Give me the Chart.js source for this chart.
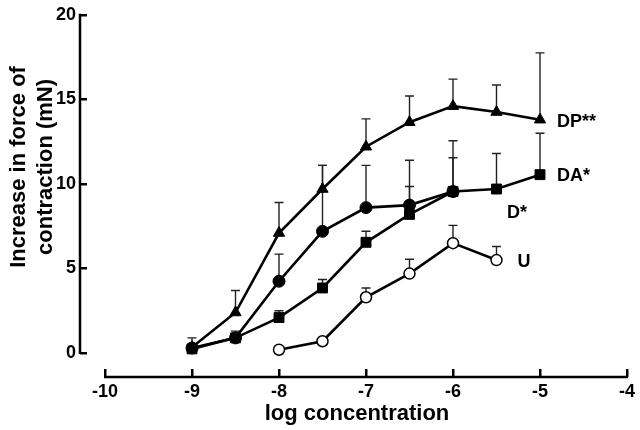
<!DOCTYPE html>
<html>
<head>
<meta charset="utf-8">
<script src="https://cdn.jsdelivr.net/npm/chart.js@4/dist/chart.umd.min.js"></script>
<style>
  body { margin: 0; background: #fff; }
  canvas { display: block; }
</style>
</head>
<body>
<canvas id="forceChart" width="640" height="430"></canvas>
<script>
// Data (log concentration vs increase in force, mN)
const concDP = [-9, -8.5, -8, -7.5, -7, -6.5, -6, -5.5, -5];
const meanDP = [0.35, 2.4, 7.1, 9.7, 12.2, 13.65, 14.6, 14.25, 13.8];
const semDP = [0.55, 1.3, 1.8, 1.4, 1.65, 1.55, 1.6, 1.6, 3.95];

const concDA = [-9, -8.5, -8, -7.5, -7, -6.5, -6, -5.5, -5];
const meanDA = [0.25, 0.9, 2.1, 3.85, 6.55, 8.2, 9.55, 9.7, 10.55];
const semDA = [0, 0.4, 0.4, 0.5, 0.65, 1.65, 2.0, 2.1, 2.45];

const concD = [-9, -8.5, -8, -7.5, -7, -6.5, -6];
const meanD = [0.3, 0.9, 4.25, 7.2, 8.6, 8.75, 9.55];
const semD = [0, 0, 1.6, 3.9, 2.5, 2.65, 3.0];

const concU = [-8, -7.5, -7, -6.5, -6, -5.5];
const meanU = [0.2, 0.7, 3.3, 4.7, 6.5, 5.5];
const semU = [0, 0, 0.55, 0.85, 1.05, 0.8];

const xTicks = [-10, -9, -8, -7, -6, -5, -4];
const yTicks = [0, 5, 10, 15, 20];
const yTitle = ['Increase in force of', 'contraction (mN)'];
const xTitle = 'log concentration';

const FONT = "'Liberation Sans', Arial, sans-serif";

function pts(xs, ys) {
    return xs.map((x, i) => ({ x: x, y: ys[i] }));
}

// upward error bars with caps
const errorBars = {
    id: 'errorBars',
    beforeDatasetsDraw(chart) {
        const ctx = chart.ctx;
        const xs = chart.scales.x, ys = chart.scales.y;
        ctx.save();
        ctx.strokeStyle = '#222';
        ctx.lineWidth = 1.4;
        chart.data.datasets.forEach(ds => {
            ds.data.forEach((p, i) => {
                const e = ds.sem[i];
                if (!e) return;
                const px = xs.getPixelForValue(p.x);
                const y0 = ys.getPixelForValue(p.y);
                const y1 = ys.getPixelForValue(p.y + e);
                ctx.beginPath();
                ctx.moveTo(px, y0);
                ctx.lineTo(px, y1);
                ctx.moveTo(px - 4.5, y1);
                ctx.lineTo(px + 4.5, y1);
                ctx.stroke();
            });
        });
        ctx.restore();
    }
};

// offset axis lines, y title and series tags
const decorations = {
    id: 'decorations',
    afterDraw(chart) {
        const ctx = chart.ctx;
        const xs = chart.scales.x, ys = chart.scales.y;
        const area = chart.chartArea;
        ctx.save();
        ctx.strokeStyle = '#000';
        ctx.lineWidth = 2.5;
        // y axis line
        const ax = area.left - 7;
        ctx.beginPath();
        ctx.moveTo(ax, ys.getPixelForValue(0) + 1);
        ctx.lineTo(ax, ys.getPixelForValue(20) - 1);
        ctx.stroke();
        // x axis line
        const ay = area.bottom + 8;
        ctx.beginPath();
        ctx.moveTo(xs.getPixelForValue(-10) - 1, ay);
        ctx.lineTo(xs.getPixelForValue(-4) + 1, ay);
        ctx.stroke();

        // y axis title
        ctx.fillStyle = '#000';
        ctx.font = 'bold 22px ' + FONT;
        ctx.textAlign = 'center';
        ctx.textBaseline = 'middle';
        const cy = (ys.getPixelForValue(0) + ys.getPixelForValue(20)) / 2 - 17;
        yTitle.forEach((line, i) => {
            ctx.save();
            ctx.translate(19 + i * 27, cy);
            ctx.rotate(-Math.PI / 2);
            ctx.fillText(line, 0, 0);
            ctx.restore();
        });

        // series tags next to the last point
        ctx.font = 'bold 18px ' + FONT;
        ctx.textAlign = 'left';
        chart.data.datasets.forEach(ds => {
            const last = ds.data[ds.data.length - 1];
            const px = xs.getPixelForValue(last.x);
            const py = ys.getPixelForValue(last.y);
            ctx.fillText(ds.label, px + ds.tagDx, py + ds.tagDy);
        });
        ctx.restore();
    }
};

const ctx = document.getElementById('forceChart').getContext('2d');
new Chart(ctx, {
    type: 'scatter',
    data: {
        datasets: [
            {
                label: 'DP**', data: pts(concDP, meanDP), sem: semDP,
                pointStyle: 'triangle', pointRadius: 6.5,
                pointBackgroundColor: '#000', tagDx: 17, tagDy: 2
            },
            {
                label: 'DA*', data: pts(concDA, meanDA), sem: semDA,
                pointStyle: 'rect', pointRadius: 7,
                pointBackgroundColor: '#000', tagDx: 17, tagDy: 1
            },
            {
                label: 'D*', data: pts(concD, meanD), sem: semD,
                pointStyle: 'circle', pointRadius: 6,
                pointBackgroundColor: '#000', tagDx: 54, tagDy: 21
            },
            {
                label: 'U', data: pts(concU, meanU), sem: semU,
                pointStyle: 'circle', pointRadius: 5.5,
                pointBackgroundColor: '#fff', pointBorderWidth: 1.5, tagDx: 21, tagDy: 2
            }
        ].map(ds => Object.assign({
            showLine: true,
            borderColor: '#000',
            borderWidth: 2.6,
            pointBorderColor: '#000',
            pointBorderWidth: 1,
            pointHoverRadius: 6
        }, ds))
    },
    options: {
        responsive: false,
        animation: false,
        devicePixelRatio: 1,
        layout: { padding: { top: 13, right: 13, bottom: 0, left: 0 } },
        plugins: {
            legend: { display: false },
            tooltip: { enabled: false }
        },
        scales: {
            x: {
                type: 'linear',
                min: -10.207,
                max: -4,
                afterBuildTicks: s => { s.ticks = xTicks.map(v => ({ value: v })); },
                afterFit: s => { s.height = 61; },
                ticks: {
                    color: '#000',
                    font: { family: FONT, size: 18, weight: 'bold' },
                    padding: 4,
                    maxRotation: 0,
                    callback: v => String(v)
                },
                grid: { drawOnChartArea: false, drawTicks: true, tickLength: 8, lineWidth: 2.5, color: '#000' },
                border: { display: false },
                title: {
                    display: true,
                    text: xTitle,
                    color: '#000',
                    font: { family: FONT, size: 22, weight: 'bold' },
                    padding: { top: 0, bottom: 3 }
                }
            },
            y: {
                min: -0.94,
                max: 20,
                afterBuildTicks: s => { s.ticks = yTicks.map(v => ({ value: v })); },
                afterFit: s => { s.width = 87; },
                ticks: {
                    color: '#000',
                    font: { family: FONT, size: 18, weight: 'bold' },
                    padding: 4,
                    callback: v => String(v)
                },
                grid: { drawOnChartArea: false, drawTicks: true, tickLength: 7, lineWidth: 2.5, color: '#000' },
                border: { display: false }
            }
        }
    },
    plugins: [errorBars, decorations]
});
</script>
</body>
</html>
